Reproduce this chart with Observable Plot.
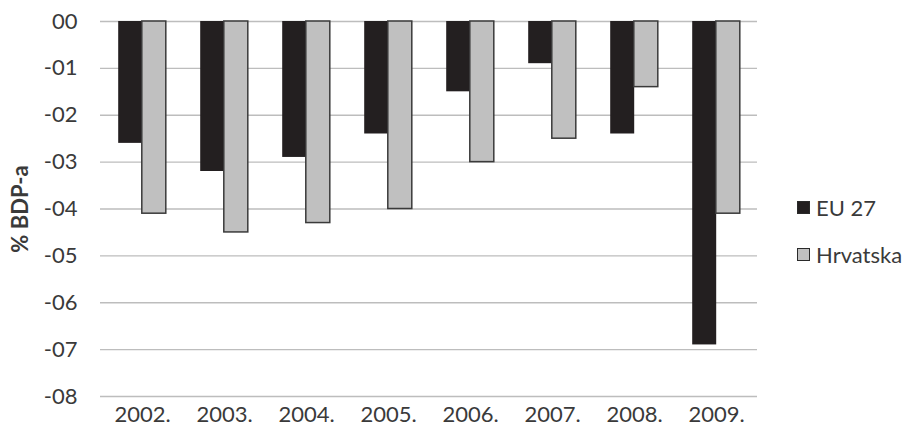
<!DOCTYPE html>
<html>
<head>
<meta charset="utf-8">
<script src="https://cdn.jsdelivr.net/npm/d3@7"></script>
<script src="https://cdn.jsdelivr.net/npm/@observablehq/plot@0.6"></script>
<style>
  html, body { margin: 0; padding: 0; background: #fff; }
  #wrap { position: relative; width: 910px; height: 443px; font-family: Lato, "Open Sans", sans-serif; }
  #chart { position: absolute; left: 0; top: 0; }
  #legend { position: absolute; left: 797px; top: 193px; font-size: 22px; color: #3a3a3a; }
  .item { display: flex; align-items: center; height: 28px; margin-bottom: 19px; }
  .sw { width: 13px; height: 13px; box-sizing: border-box; margin-right: 6px; }
  svg [aria-label="y-axis label"] text { font-weight: bold; font-size: 22px; }
</style>
</head>
<body>
<div id="wrap">
  <div id="chart"></div>
  <div id="legend"></div>
</div>
<script>
const years = ["2002.", "2003.", "2004.", "2005.", "2006.", "2007.", "2008.", "2009."];
const eu27 = [-2.6, -3.2, -2.9, -2.4, -1.5, -0.9, -2.4, -6.9];
const hrvatska = [-4.1, -4.5, -4.3, -4.0, -3.0, -2.5, -1.4, -4.1];
const seriesNames = ["EU 27", "Hrvatska"];
const seriesFill = ["#231f20", "#c0c0c0"];
const yTicks = [0, -1, -2, -3, -4, -5, -6, -7, -8];
const yTickLabels = ["00", "-01", "-02", "-03", "-04", "-05", "-06", "-07", "-08"];

const euData = years.map((y, i) => ({year: y, value: eu27[i]}));
const hrData = years.map((y, i) => ({year: y, value: hrvatska[i]}));

const chart = Plot.plot({
  width: 770,
  height: 443,
  marginLeft: 100,
  marginRight: 13,
  marginTop: 21,
  marginBottom: 47,
  style: {fontFamily: "Lato, 'Open Sans', sans-serif", fontSize: "22px", color: "#3a3a3a", background: "#fff"},
  x: {domain: years, paddingInner: 0.712, paddingOuter: 0.356, align: 0.5, label: null},
  y: {domain: [-8, 0], label: "% BDP-a"},
  marks: [
    Plot.gridY(yTicks, {stroke: "#bdbdbd", strokeOpacity: 1, strokeWidth: 1.3}),
    Plot.ruleX([0], {x: () => 0, frameAnchor: "left", stroke: "#bdbdbd", strokeWidth: 1.3}),
    Plot.barY(euData, {x: "year", y: "value", fill: seriesFill[0], dx: -11.8}),
    Plot.barY(hrData, {x: "year", y: "value", fill: seriesFill[1], stroke: "#3a3a3a", strokeWidth: 1.5, dx: 11.8}),
    Plot.axisX({tickSize: 0, tickPadding: 10, fontSize: 22, label: null}),
    Plot.axisY({ticks: yTicks, tickFormat: (d) => yTickLabels[yTicks.indexOf(d)], tickSize: 0, tickPadding: 23, fontSize: 22,
      label: "% BDP-a", labelAnchor: "center", labelOffset: 88, labelArrow: "none"})
  ]
});
document.getElementById("chart").appendChild(chart);

const legend = document.getElementById("legend");
seriesNames.forEach((name, i) => {
  const item = document.createElement("div");
  item.className = "item";
  const sw = document.createElement("div");
  sw.className = "sw";
  sw.style.background = seriesFill[i];
  sw.style.border = "1.5px solid #2a2a2a";
  const t = document.createElement("span");
  t.textContent = name;
  item.appendChild(sw);
  item.appendChild(t);
  legend.appendChild(item);
});
</script>
</body>
</html>
